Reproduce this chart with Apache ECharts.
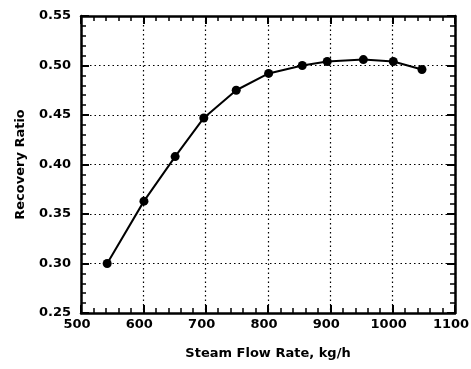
<!DOCTYPE html>
<html>
<head>
<meta charset="utf-8">
<script src="https://cdn.jsdelivr.net/npm/echarts@6/dist/echarts.min.js"></script>
<style>
    html, body { margin: 0; padding: 0; background: #fff; }
    #main { width: 471px; height: 369px; }
</style>
</head>
<body>
<div id="main"></div>
<script>
// steam flow rate (kg/h) and recovery ratio
var flowRate = [542, 601, 651, 697, 749, 801, 855, 895, 953, 1001, 1047];
var recovery = [0.300, 0.363, 0.408, 0.447, 0.475, 0.492, 0.500, 0.504, 0.506, 0.504, 0.496];
var xTicks = [500, 600, 700, 800, 900, 1000, 1100];
var yTicks = [0.25, 0.30, 0.35, 0.40, 0.45, 0.50, 0.55];

var font = 'DejaVu Sans';
var points = [];
for (var i = 0; i < flowRate.length; i++) {
    points.push([flowRate[i], recovery[i]]);
}

var xMin = xTicks[0], xMax = xTicks[xTicks.length - 1];
var yMin = yTicks[0], yMax = yTicks[yTicks.length - 1];

// frame axis: thick line, inward major + minor ticks
function frameAxis(pos, min, max, step) {
    return {
        type: 'value', position: pos, min: min, max: max, interval: step,
        axisLine: { show: true, onZero: false, lineStyle: { color: '#000', width: 2.5 } },
        axisTick: { show: true, inside: true, length: 8, lineStyle: { color: '#000', width: 2 } },
        minorTick: { show: true, splitNumber: 5, length: 5, lineStyle: { color: '#000', width: 1.5 } },
        splitLine: { show: false },
        axisLabel: { show: false }
    };
}
// grid-only axis: just the dotted split lines (ticks vanish if put on the frame axis)
function gridAxis(pos, min, max, step) {
    return {
        type: 'value', position: pos, min: min, max: max, interval: step,
        axisLine: { show: false },
        axisTick: { show: false },
        axisLabel: { show: false },
        splitLine: { show: true, lineStyle: { color: '#000', width: 1.2, type: [1.5, 3] } }
    };
}

var labelStyle = { color: '#000', fontFamily: font, fontWeight: 'bold', fontSize: 13 };

var xBottom = frameAxis('bottom', xMin, xMax, 100);
xBottom.axisLabel = {
    show: true, margin: 5, padding: [0, 8, 0, 0],
    color: '#000', fontFamily: font, fontWeight: 'bold', fontSize: 13,
    formatter: function (v) { return String(v); }
};
xBottom.name = 'Steam Flow Rate, kg/h';
xBottom.nameLocation = 'middle';
xBottom.nameGap = 34;
xBottom.nameTextStyle = labelStyle;

var yLeft = frameAxis('left', yMin, yMax, 0.05);
yLeft.axisLabel = {
    show: true, margin: 10, color: '#000', fontFamily: font, fontWeight: 'bold', fontSize: 13,
    formatter: function (v) { return v.toFixed(2); }
};
yLeft.name = 'Recovery Ratio';
yLeft.nameLocation = 'middle';
yLeft.nameGap = 54;
yLeft.nameTextStyle = labelStyle;

var myChart = echarts.init(document.getElementById('main'));
var option = {
    animation: false,
    grid: { left: 81, right: 16, top: 16, bottom: 56, outerBoundsMode: 'none' },
    xAxis: [xBottom, frameAxis('top', xMin, xMax, 100), gridAxis('bottom', xMin, xMax, 100)],
    yAxis: [yLeft, frameAxis('right', yMin, yMax, 0.05), gridAxis('left', yMin, yMax, 0.05)],
    series: [{
        type: 'line',
        data: points,
        symbol: 'circle',
        symbolSize: 9,
        itemStyle: { color: '#000' },
        lineStyle: { color: '#000', width: 2 },
        z: 5
    }]
};
myChart.setOption(option);
</script>
</body>
</html>
